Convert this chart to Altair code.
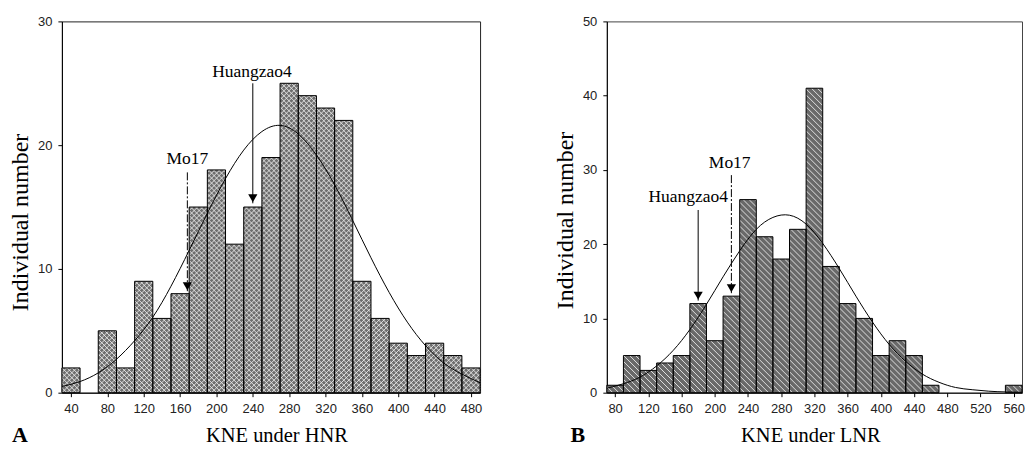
import math
import altair as alt
import pandas as pd

# ---------------- Panel A: KNE under HNR ----------------
a_bin_centers = [40, 60, 80, 100, 120, 140, 160, 180, 200, 220, 240, 260, 280,
                 300, 320, 340, 360, 380, 400, 420, 440, 460, 480]
a_counts = [2, 0, 5, 2, 9, 6, 8, 15, 18, 12, 15, 19, 25, 24, 23, 22, 9, 6, 4, 3, 4, 3, 2]
a_curve_x = [30, 50, 70, 90, 110, 130, 150, 170, 190, 210, 230, 250, 270,
             290, 310, 330, 350, 370, 390, 410, 430, 450, 470, 490]
a_curve_y = [0.5, 0.9, 1.6, 2.7, 4.2, 6.1, 8.6, 11.5, 14.5, 17.3, 19.6, 21.1, 21.6,
             20.9, 19.2, 16.8, 13.9, 10.9, 8.1, 5.7, 3.8, 2.4, 1.5, 0.8]
a_x_ticks = [40, 80, 120, 160, 200, 240, 280, 320, 360, 400, 440, 480]
a_y_ticks = [0, 10, 20, 30]
a_labels = ["Mo17", "Huangzao4"]
a_label_x = [168, 239]
a_label_y = [18.9, 25.9]
a_arrow_x = [168, 240]
a_arrow_top = [17.8, 25.0]
a_arrow_tip = [8.2, 15.3]
a_arrow_dash = [True, False]

# ---------------- Panel B: KNE under LNR ----------------
b_bin_centers = [80, 100, 120, 140, 160, 180, 200, 220, 240, 260, 280, 300, 320,
                 340, 360, 380, 400, 420, 440, 460, 480, 500, 520, 540, 560]
b_counts = [1, 5, 3, 4, 5, 12, 7, 13, 26, 21, 18, 22, 41, 17, 12, 10, 5, 7, 5, 1,
            0, 0, 0, 0, 1]
b_curve_x = [70, 90, 110, 130, 150, 170, 190, 210, 230, 250, 270, 290, 310,
             330, 350, 370, 390, 410, 430, 450, 470, 490, 510, 530, 550, 570]
b_curve_y = [0.6, 1.2, 2.1, 3.6, 5.7, 8.5, 11.9, 15.6, 19.1, 22.0, 23.6, 23.9, 22.7,
             20.1, 16.7, 13.0, 9.5, 6.5, 4.2, 2.5, 1.4, 0.7, 0.4, 0.2, 0.1, 0.05]
b_x_ticks = [80, 120, 160, 200, 240, 280, 320, 360, 400, 440, 480, 520, 560]
b_y_ticks = [0, 10, 20, 30, 40, 50]
b_labels = ["Huangzao4", "Mo17"]
b_label_x = [168, 218]
b_label_y = [26.3, 30.9]
b_arrow_x = [180, 220]
b_arrow_top = [24.6, 29.3]
b_arrow_tip = [12.4, 13.4]
b_arrow_dash = [False, True]

BIN_WIDTH = 20
SERIF = "Liberation Serif"
SANS = "Liberation Sans"


def hatch_segments(starts, ends, counts, xdom, ydom, w, h, spacing, directions):
    """Diagonal hatch lines clipped to each bar, returned in data units."""
    kx = w / (xdom[1] - xdom[0])
    ky = h / (ydom[1] - ydom[0])
    rows = []
    for x0, x1, v in zip(starts, ends, counts):
        if v <= 0:
            continue
        X0 = (x0 - xdom[0]) * kx
        X1 = (x1 - xdom[0]) * kx
        V = v * ky
        for d in directions:
            if d < 0:  # "\" : Y = c - X
                for k in range(math.floor(X0 / spacing), math.ceil((X1 + V) / spacing) + 1):
                    c = k * spacing
                    xa, xb = max(X0, c - V), min(X1, c)
                    if xb - xa > 0.3:
                        rows.append((xa, c - xa, xb, c - xb))
            else:  # "/" : Y = X - c
                for k in range(math.floor((X0 - V) / spacing), math.ceil(X1 / spacing) + 1):
                    c = k * spacing
                    xa, xb = max(X0, c), min(X1, c + V)
                    if xb - xa > 0.3:
                        rows.append((xa, xa - c, xb, xb - c))
    return pd.DataFrame({
        "x": [r[0] / kx + xdom[0] for r in rows],
        "y": [r[1] / ky for r in rows],
        "x2": [r[2] / kx + xdom[0] for r in rows],
        "y2": [r[3] / ky for r in rows],
    })


def panel(centers, counts, cx, cy, xdom, ydom, xticks, yticks, labels, lx, ly,
          ax, atop, atip, adash, xtitle, letter, letter_x, letter_y, fill,
          hatch_spacing, hatch_dirs, w, h, frame, xtitle_x, ytitle_y):
    starts = [c - BIN_WIDTH / 2 for c in centers]
    ends = [c + BIN_WIDTH / 2 for c in centers]
    bars_df = pd.DataFrame({"start": starts, "end": ends, "count": counts})
    bars_df = bars_df[bars_df["count"] > 0]
    hatch_df = hatch_segments(starts, ends, counts, xdom, ydom, w, h,
                              hatch_spacing, hatch_dirs)
    curve_df = pd.DataFrame({"x": cx, "y": cy})
    lab_df = pd.DataFrame({"label": labels, "x": lx, "y": ly})
    arr_df = pd.DataFrame({"x": ax, "top": atop, "tip": atip, "dash": adash})

    x_axis = alt.Axis(values=xticks, title=xtitle, grid=False, tickSize=4,
                      labelPadding=6, titlePadding=10, labelFlush=False,
                      labelOverlap=False, labelBound=False, titleX=xtitle_x)
    y_axis = alt.Axis(values=yticks, title="Individual number", grid=False,
                      tickSize=4, labelPadding=6, titlePadding=5,
                      labelOverlap=False, titleY=ytitle_y)

    def X(field):
        return alt.X(field, scale=alt.Scale(domain=xdom, nice=False, zero=False),
                     axis=x_axis)

    def Y(field):
        return alt.Y(field, scale=alt.Scale(domain=ydom, nice=False), axis=y_axis)

    bars = alt.Chart(bars_df).mark_bar(
        fill=fill, strokeWidth=0, opacity=1
    ).encode(x=X("start:Q"), x2="end:Q", y=Y("count:Q"), y2=alt.datum(0))

    hatch = alt.Chart(hatch_df).mark_rule(
        color="#ececec", strokeWidth=0.9
    ).encode(x=X("x:Q"), y=Y("y:Q"), x2="x2:Q", y2="y2:Q")

    outline = alt.Chart(bars_df).mark_bar(
        fillOpacity=0, stroke="black", strokeWidth=1
    ).encode(x=X("start:Q"), x2="end:Q", y=Y("count:Q"), y2=alt.datum(0))

    curve = alt.Chart(curve_df).mark_line(
        color="black", strokeWidth=1, interpolate="natural", clip=True
    ).encode(x=X("x:Q"), y=Y("y:Q"))

    solid = alt.Chart(arr_df[~arr_df["dash"]]).mark_rule(
        color="black", strokeWidth=1
    ).encode(x=X("x:Q"), y=Y("top:Q"), y2="tip:Q")

    dashed = alt.Chart(arr_df[arr_df["dash"]]).mark_rule(
        color="black", strokeWidth=1, strokeDash=[8, 2, 2, 2]
    ).encode(x=X("x:Q"), y=Y("top:Q"), y2="tip:Q")

    heads = alt.Chart(arr_df).mark_point(
        shape="triangle-down", filled=True, color="black", size=85, opacity=1,
        yOffset=-5
    ).encode(x=X("x:Q"), y=Y("tip:Q"))

    texts = alt.Chart(lab_df).mark_text(
        font=SERIF, fontSize=17.5, color="black", baseline="middle", align="center"
    ).encode(x=X("x:Q"), y=Y("y:Q"), text="label:N")

    let = alt.Chart(pd.DataFrame({"t": [letter]})).mark_text(
        font=SERIF, fontSize=22, fontWeight="bold", color="black",
        baseline="bottom", align="center"
    ).encode(x=alt.value(letter_x), y=alt.value(letter_y), text="t:N")

    return alt.layer(bars, hatch, outline, curve, solid, dashed, heads, texts, let).properties(
        width=w, height=h, view=alt.ViewConfig(stroke=frame, strokeWidth=1)
    )


left = panel(a_bin_centers, a_counts, a_curve_x, a_curve_y, [30, 490], [0, 30],
             a_x_ticks, a_y_ticks, a_labels, a_label_x, a_label_y,
             a_arrow_x, a_arrow_top, a_arrow_tip, a_arrow_dash,
             "KNE under HNR", "A", -42, 426, "#6e6e6e", 5, [-1, 1],
             419, 372, "#222222", 215, 201)
right = panel(b_bin_centers, b_counts, b_curve_x, b_curve_y, [70, 570], [0, 50],
              b_x_ticks, b_y_ticks, b_labels, b_label_x, b_label_y,
              b_arrow_x, b_arrow_top, b_arrow_tip, b_arrow_dash,
              "KNE under LNR", "B", -29, 426, "#696969", 6, [-1],
              416, 372, "#444444", 204, 199)

chart = alt.hconcat(left, right, spacing=70).properties(
    padding={"left": 0, "top": 6, "right": 0, "bottom": 0}
).configure_axis(
    labelFont=SANS, labelFontSize=13, labelColor="#222222", labelOverlap=False,
    titleFont=SERIF, titleFontSize=20.5, titleFontWeight="normal", titleColor="black",
    domainColor="black", tickColor="black", domainWidth=1, tickWidth=1
).configure_axisY(
    titleFontSize=24
)

chart.save("out.html", embed_options={"renderer": "svg", "actions": False})
